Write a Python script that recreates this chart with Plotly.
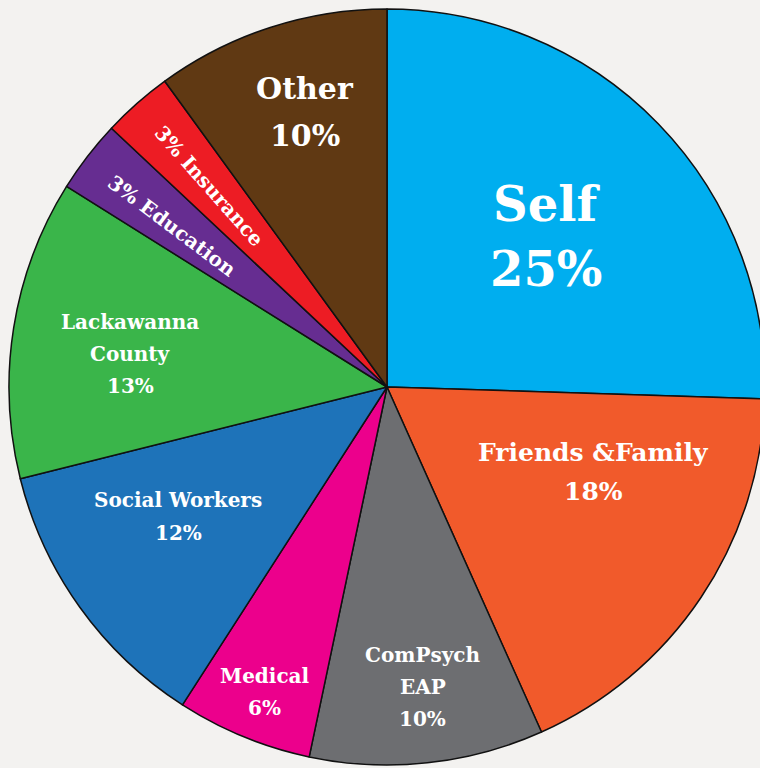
import math
import plotly.graph_objects as go

# ---- data (slice sizes read from the slice boundaries; labels show rounded shares) ----
categories = ["Self", "Friends &Family", "ComPsych EAP", "Medical", "Social Workers",
              "Lackawanna County", "Education", "Insurance", "Other"]
values = [25.5, 17.8, 10.0, 5.8, 12.0, 12.8, 3.1, 3.0, 10.0]
label_lines = [["Self", "25%"], ["Friends &Family", "18%"], ["ComPsych", "EAP", "10%"],
               ["Medical", "6%"], ["Social Workers", "12%"], ["Lackawanna", "County", "13%"],
               ["3% Education"], ["3% Insurance"], ["Other", "10%"]]

# ---- style ----
colors = ["#00AEEF", "#F15A2B", "#6D6E71", "#EC008C", "#1E73B9",
          "#3AB54A", "#662D91", "#ED1C24", "#603913"]
# radial fraction and angle offset (deg) of each label, font size, line spacing, rotation mode
label_r = [0.58, 0.59, 0.80, 0.87, 0.65, 0.685, 0.71, 0.71, 0.76]
label_da = [-0.6, 11.4, 0.7, 0.5, -3.9, 1.7, 0.8, 0.1, -1.4]
label_size = [48, 25, 20, 20, 20, 20, 20, 20, 30]
label_gap = [65, 39, 32, 32, 33, 32, 0, 0, 47]
label_radial = [False, False, False, False, False, False, True, True, False]
BG = "#f3f2f0"

# figure slightly wider than the 760px window; the page clips the overflow
W, H = 770, 768
ML, MR, MT, MB = 9, 5, 9, 3

fig = go.Figure(go.Pie(
    labels=categories, values=values, sort=False, direction="clockwise",
    rotation=0, textinfo="none", hoverinfo="label",
    marker=dict(colors=colors, line=dict(color="#111111", width=1.5)),
    showlegend=False, domain=dict(x=[0, 1], y=[0, 1]),
))

total = sum(values)
cum = 0
annotations = []
for i, v in enumerate(values):
    mid = cum + v / 2
    cum += v
    ang = 90 - 360 * mid / total + label_da[i]
    a = math.radians(ang)
    x = 0.5 + 0.5 * label_r[i] * math.cos(a)
    y = 0.5 + 0.5 * label_r[i] * math.sin(a)
    textangle = 0
    if label_radial[i]:
        textangle = -(ang - 180)
        textangle = ((textangle + 180) % 360) - 180
    n = len(label_lines[i])
    for j, line in enumerate(label_lines[i]):
        annotations.append(dict(
            x=x, y=y, xref="paper", yref="paper", text="<b>" + line + "</b>",
            showarrow=False, textangle=textangle, align="center",
            yshift=((n - 1) / 2 - j) * label_gap[i],
            font=dict(family="DejaVu Serif", size=label_size[i], color="white"),
            xanchor="center", yanchor="middle",
        ))

fig.update_layout(
    width=W, height=H, margin=dict(l=ML, r=MR, t=MT, b=MB),
    paper_bgcolor=BG, plot_bgcolor=BG,
    annotations=annotations,
)
fig.write_html(
    "out.html",
    config={"displayModeBar": False},
    post_script="document.body.style.margin='0';document.body.style.overflow='hidden';"
                "document.body.style.background='" + BG + "';",
)
